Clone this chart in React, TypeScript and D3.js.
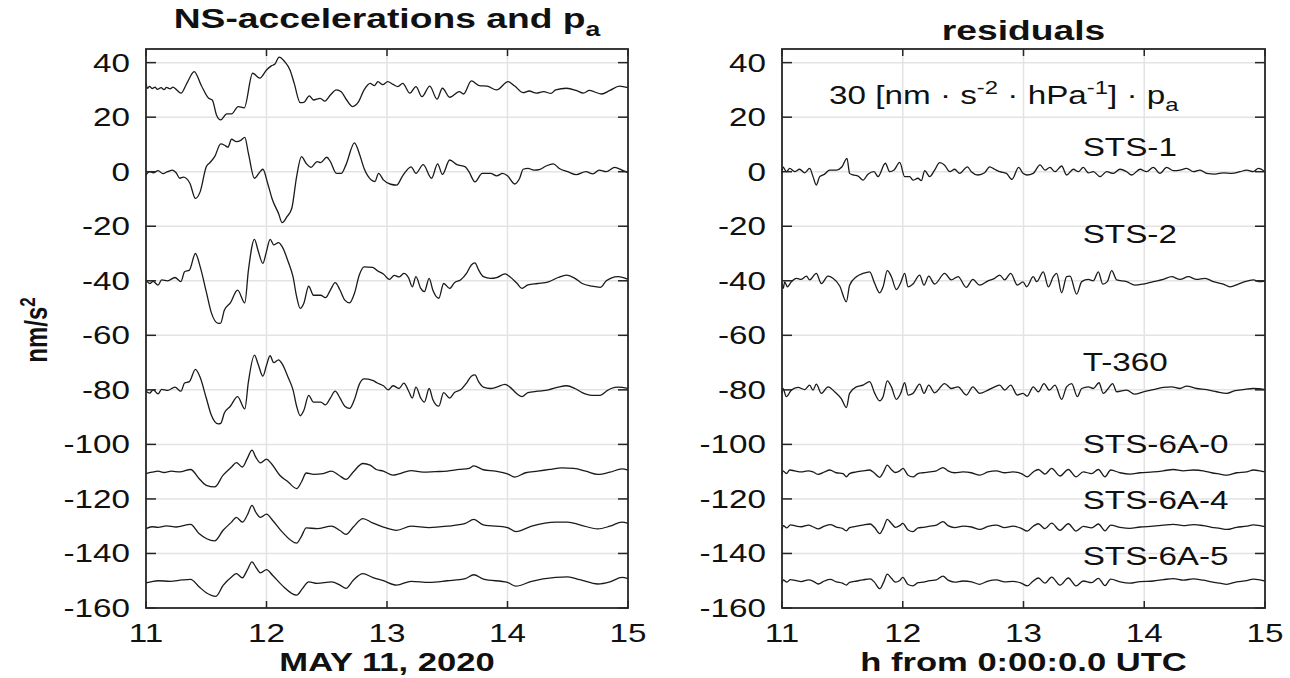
import React from "react";
import * as d3 from "d3";

type Pt = [number, number];

// axes values
const xTicks = [11, 12, 13, 14, 15];
const yTicks = [40, 20, 0, -20, -40, -60, -80, -100, -120, -140, -160];
const xDomain: [number, number] = [11, 15];
const yDomain: [number, number] = [-160, 45];

// ---- left panel: NS accelerations and scaled pressure (time [h], nm/s^2) ----
const paTrace: Pt[] = [
  [11.0, 32.4], [11.012, 30.6], [11.03, 31.3], [11.05, 30.5], [11.075, 31.0], [11.095, 30.2], [11.125, 30.8],
  [11.15, 30.1], [11.17, 30.9], [11.2, 30.4], [11.225, 31.0], [11.25, 30.2], [11.29, 28.8],
  [11.34, 32.5], [11.4, 36.7], [11.46, 31.5], [11.52, 26.9], [11.55, 26.3], [11.585, 20.8], [11.62, 19.0],
  [11.67, 21.2], [11.71, 21.2], [11.765, 23.9], [11.815, 23.4], [11.885, 36.1], [11.945, 34.3], [12.0, 37.3],
  [12.04, 38.8], [12.07, 39.5], [12.105, 42.0], [12.15, 40.4], [12.195, 37.3], [12.23, 32.4], [12.28, 25.3],
  [12.31, 25.4], [12.355, 27.8], [12.39, 26.3], [12.445, 26.9], [12.485, 25.9], [12.53, 28.1], [12.58, 30.0],
  [12.62, 29.3], [12.665, 26.3], [12.715, 23.9], [12.76, 25.4], [12.81, 30.0], [12.86, 32.4], [12.895, 31.6],
  [12.925, 33.0], [12.965, 31.9], [13.005, 33.0], [13.05, 32.0], [13.09, 31.2], [13.13, 32.4], [13.19, 28.8],
  [13.24, 31.2], [13.29, 27.5], [13.355, 31.4], [13.415, 26.6], [13.46, 30.6], [13.52, 27.3], [13.6, 29.4],
  [13.635, 28.5], [13.7, 33.3], [13.765, 31.6], [13.83, 31.4], [13.91, 30.0], [14.005, 33.0], [14.06, 31.4],
  [14.13, 29.0], [14.18, 29.6], [14.24, 28.8], [14.3, 29.4], [14.36, 28.7], [14.4, 30.0], [14.49, 30.6],
  [14.57, 29.8], [14.63, 28.8], [14.68, 29.8], [14.78, 28.5], [14.85, 29.8], [14.93, 31.4], [15.0, 30.8],
];

const sts1Acc: Pt[] = [
  [11.0, -1.2], [11.03, 0.0], [11.06, -0.4], [11.1, 0.4], [11.14, -0.7], [11.18, 0.0], [11.22, 0.6],
  [11.25, -0.4], [11.28, -2.4], [11.31, -2.0], [11.365, -4.3], [11.41, -9.8], [11.45, -7.3], [11.5, 1.8],
  [11.53, 3.3], [11.57, 5.5], [11.62, 10.2], [11.66, 9.5], [11.68, 9.0], [11.71, 11.9], [11.75, 11.0],
  [11.79, 11.6], [11.82, 12.6], [11.85, 6.7], [11.9, -2.4], [11.94, -0.4], [11.97, 0.9], [12.01, -4.3],
  [12.05, -10.4], [12.1, -15.3], [12.13, -18.7], [12.17, -16.5], [12.21, -13.4], [12.25, -1.8], [12.29, 5.5],
  [12.33, 3.0], [12.37, 1.6], [12.42, 3.7], [12.45, 3.3], [12.5, 5.3], [12.53, 3.7], [12.58, -0.6],
  [12.62, -0.6], [12.66, 2.6], [12.73, 10.6], [12.77, 6.7], [12.81, 1.2], [12.87, -3.0], [12.9, -3.6],
  [12.93, -0.6], [12.97, -3.0], [13.03, -4.6], [13.08, -4.9], [13.13, -1.5], [13.2, 1.8], [13.24, -0.6],
  [13.3, 2.6], [13.37, -2.4], [13.42, 2.9], [13.46, -1.0], [13.52, 4.3], [13.58, 2.6], [13.65, 1.8],
  [13.68, 0.0], [13.73, -3.7], [13.79, -0.6], [13.86, -0.6], [13.91, -1.5], [13.96, -0.6], [14.0, -1.5],
  [14.06, -4.5], [14.1, -2.5], [14.13, 0.9], [14.17, 1.2], [14.22, 0.6], [14.27, 0.9], [14.32, 2.1],
  [14.38, 2.9], [14.43, 1.2], [14.5, 0.0], [14.57, -1.1], [14.65, 0.0], [14.71, -0.8], [14.76, 0.6],
  [14.82, 0.0], [14.89, 1.6], [14.95, 0.6], [15.0, -0.4],
];

const sts2Acc: Pt[] = [
  [11.0, -39.7], [11.03, -41.0], [11.06, -40.2], [11.1, -41.6], [11.13, -39.7], [11.18, -40.0],
  [11.24, -38.8], [11.29, -40.3], [11.32, -36.7], [11.36, -36.1], [11.41, -30.0], [11.45, -34.9],
  [11.5, -44.0], [11.54, -51.4], [11.6, -55.6], [11.62, -55.5], [11.65, -50.8], [11.7, -48.1],
  [11.76, -43.4], [11.82, -48.1], [11.85, -36.1], [11.9, -24.8], [11.93, -28.9], [11.97, -33.6],
  [12.0, -29.2], [12.03, -24.8], [12.06, -26.8], [12.1, -26.0], [12.13, -27.5], [12.18, -33.0],
  [12.22, -38.5], [12.25, -45.8], [12.28, -50.1], [12.31, -48.2], [12.35, -42.0], [12.39, -45.3],
  [12.45, -45.3], [12.49, -46.2], [12.53, -43.4], [12.57, -40.7], [12.61, -43.4], [12.65, -47.1],
  [12.69, -48.1], [12.73, -44.6], [12.77, -37.9], [12.81, -34.9], [12.88, -35.1], [12.92, -36.3],
  [12.97, -37.5], [13.02, -39.5], [13.06, -38.0], [13.1, -38.6], [13.14, -37.3], [13.18, -39.0],
  [13.21, -42.2], [13.24, -38.5], [13.28, -42.8], [13.31, -44.0], [13.35, -39.1], [13.38, -43.4],
  [13.43, -46.4], [13.47, -41.0], [13.52, -42.8], [13.56, -40.7], [13.61, -39.7], [13.66, -37.3],
  [13.7, -34.2], [13.73, -33.4], [13.76, -36.0], [13.8, -38.5], [13.86, -39.1], [13.91, -38.8],
  [13.98, -37.5], [14.02, -38.5], [14.08, -41.0], [14.12, -42.8], [14.17, -41.5], [14.25, -41.0],
  [14.34, -40.4], [14.42, -38.8], [14.49, -37.9], [14.56, -39.1], [14.62, -41.0], [14.7, -42.0],
  [14.77, -42.4], [14.82, -40.0], [14.86, -39.0], [14.92, -38.5], [15.0, -39.5],
];

const t360Acc: Pt[] = [
  [11.0, -80.5], [11.03, -81.2], [11.06, -80.0], [11.1, -81.5], [11.13, -79.8], [11.18, -80.2],
  [11.24, -79.0], [11.29, -80.5], [11.32, -77.5], [11.36, -77.0], [11.41, -72.5], [11.45, -75.5],
  [11.5, -83.0], [11.54, -89.0], [11.6, -92.5], [11.62, -92.3], [11.65, -88.5], [11.7, -86.0],
  [11.76, -82.5], [11.82, -87.0], [11.85, -77.0], [11.9, -67.3], [11.93, -70.5], [11.97, -75.0],
  [12.0, -71.0], [12.03, -67.5], [12.06, -70.0], [12.1, -69.0], [12.13, -70.5], [12.18, -75.5],
  [12.22, -80.0], [12.25, -86.0], [12.28, -89.5], [12.31, -87.5], [12.35, -82.0], [12.39, -84.5],
  [12.45, -84.5], [12.49, -85.5], [12.53, -83.0], [12.57, -80.5], [12.61, -83.0], [12.65, -86.0],
  [12.69, -86.8], [12.73, -83.5], [12.77, -78.0], [12.81, -76.0], [12.88, -76.5], [12.92, -77.5],
  [12.97, -78.5], [13.01, -80.0], [13.05, -78.5], [13.1, -79.5], [13.14, -77.5], [13.18, -80.5],
  [13.21, -83.0], [13.24, -79.0], [13.28, -83.0], [13.31, -84.5], [13.35, -79.5], [13.38, -83.5],
  [13.43, -86.0], [13.47, -81.0], [13.52, -83.0], [13.56, -81.0], [13.61, -80.0], [13.66, -77.5],
  [13.7, -75.0], [13.73, -74.5], [13.76, -77.0], [13.8, -79.0], [13.86, -79.5], [13.91, -79.0],
  [13.98, -78.0], [14.02, -79.0], [14.08, -81.5], [14.12, -82.5], [14.17, -81.0], [14.25, -80.5],
  [14.34, -80.0], [14.42, -79.0], [14.49, -78.5], [14.56, -79.5], [14.62, -81.0], [14.7, -82.0],
  [14.77, -82.0], [14.82, -80.5], [14.86, -79.5], [14.92, -79.0], [15.0, -79.5],
];

const sts6a0Acc: Pt[] = [
  [11.0, -110.7], [11.05, -110.2], [11.1, -109.8], [11.15, -110.3], [11.21, -109.8], [11.28, -110.1],
  [11.37, -109.2], [11.44, -112.5], [11.5, -115.0], [11.57, -115.6], [11.64, -111.3], [11.71, -108.3],
  [11.75, -106.7], [11.8, -108.3], [11.84, -105.2], [11.88, -102.1], [11.91, -104.6], [11.95, -106.8],
  [12.0, -105.4], [12.04, -107.0], [12.11, -111.3], [12.18, -113.8], [12.25, -116.2], [12.29, -113.8],
  [12.33, -110.5], [12.39, -111.0], [12.47, -110.7], [12.54, -109.8], [12.6, -111.3], [12.66, -112.8],
  [12.72, -110.1], [12.8, -107.0], [12.86, -107.6], [12.91, -109.2], [12.97, -109.8], [13.05, -111.3],
  [13.1, -110.8], [13.2, -109.6], [13.3, -110.2], [13.4, -110.0], [13.5, -109.8], [13.6, -109.2],
  [13.68, -108.8], [13.72, -107.9], [13.8, -109.3], [13.9, -109.8], [14.0, -110.8], [14.06, -112.0],
  [14.15, -110.4], [14.25, -109.8], [14.35, -109.2], [14.45, -108.6], [14.55, -108.8], [14.65, -109.8],
  [14.75, -111.0], [14.85, -110.2], [14.95, -109.0], [15.0, -109.4],
];

const sts6a4Acc: Pt[] = [
  [11.0, -130.9], [11.05, -130.2], [11.1, -130.4], [11.17, -129.9], [11.25, -130.3], [11.37, -129.3],
  [11.44, -132.7], [11.5, -134.5], [11.57, -135.4], [11.64, -131.5], [11.71, -128.5], [11.75, -126.8],
  [11.8, -128.5], [11.84, -126.0], [11.88, -122.4], [11.91, -124.8], [11.95, -126.8], [12.0, -125.6],
  [12.05, -127.8], [12.13, -132.1], [12.25, -136.2], [12.29, -133.7], [12.33, -130.6], [12.42, -130.9],
  [12.54, -130.0], [12.61, -131.6], [12.66, -133.0], [12.72, -130.3], [12.8, -127.2], [12.88, -128.8],
  [12.97, -130.3], [13.08, -131.5], [13.2, -130.0], [13.35, -130.5], [13.5, -130.0], [13.65, -129.0],
  [13.72, -127.5], [13.8, -129.5], [14.0, -130.5], [14.07, -132.0], [14.2, -130.0], [14.4, -128.5],
  [14.5, -128.5], [14.6, -129.5], [14.75, -131.0], [14.85, -130.0], [14.95, -128.5], [15.0, -129.0],
];

const sts6a5Acc: Pt[] = [
  [11.0, -150.8], [11.05, -150.3], [11.1, -150.0], [11.2, -150.2], [11.3, -149.7], [11.37, -149.5],
  [11.44, -152.2], [11.5, -154.4], [11.58, -155.7], [11.64, -151.7], [11.71, -148.6], [11.75, -147.4],
  [11.8, -148.9], [11.84, -146.1], [11.88, -143.1], [11.91, -144.9], [11.95, -147.1], [12.0, -145.9],
  [12.05, -148.0], [12.13, -151.7], [12.25, -155.3], [12.3, -152.8], [12.35, -150.4], [12.42, -151.0],
  [12.54, -150.4], [12.61, -151.6], [12.66, -152.8], [12.72, -149.8], [12.8, -147.4], [12.88, -148.8],
  [12.97, -150.0], [13.08, -151.6], [13.2, -150.2], [13.35, -150.6], [13.5, -150.0], [13.65, -149.2],
  [13.72, -147.8], [13.8, -149.4], [14.0, -150.6], [14.07, -152.0], [14.2, -150.2], [14.4, -148.8],
  [14.5, -148.6], [14.6, -149.6], [14.75, -151.2], [14.85, -150.4], [14.95, -148.8], [15.0, -149.2],
];

// ---- right panel: residuals ----
const sts1Res: Pt[] = [
  [11.0, -0.6], [11.008, 1.8], [11.036, 0.0], [11.064, 1.2], [11.105, 0.0], [11.146, 0.9], [11.188, -0.4],
  [11.229, 1.2], [11.257, -1.8], [11.284, -4.9], [11.312, -1.8], [11.353, -0.9], [11.395, 0.6], [11.45, 0.6],
  [11.497, 1.8], [11.538, 4.9], [11.56, -0.6], [11.588, -1.2], [11.63, -1.6], [11.671, -3.1], [11.712, -0.9],
  [11.762, 0.0], [11.795, -1.8], [11.856, 3.1], [11.892, 0.0], [11.928, 0.6], [11.975, 3.4], [12.016, -1.8],
  [12.057, -1.8], [12.085, -3.1], [12.126, -2.4], [12.154, -3.3], [12.182, 0.4], [12.223, -1.8], [12.264, 0.6],
  [12.306, 3.3], [12.347, 2.4], [12.389, 0.0], [12.43, 0.9], [12.471, -0.6], [12.535, 1.8], [12.568, 0.0],
  [12.623, -1.2], [12.678, -0.4], [12.72, 1.8], [12.761, 0.9], [12.803, 0.0], [12.858, -0.6], [12.905, -2.8],
  [12.96, 1.6], [12.996, -0.6], [13.026, -1.2], [13.081, -0.6], [13.137, 2.5], [13.178, 0.6], [13.219, 1.6],
  [13.261, 0.0], [13.316, 2.1], [13.357, -1.2], [13.413, 0.9], [13.454, 0.0], [13.495, 1.6], [13.537, -0.4],
  [13.578, 0.0], [13.634, -1.8], [13.689, 0.0], [13.744, -0.6], [13.799, 0.9], [13.854, 0.0], [13.896, -1.2],
  [13.965, 0.9], [14.02, 0.0], [14.075, 1.6], [14.13, -0.6], [14.186, 1.6], [14.241, 0.4], [14.296, 0.6],
  [14.351, 1.2], [14.407, 0.0], [14.462, 0.6], [14.517, -0.6], [14.586, -0.9], [14.655, -0.4], [14.724, -0.6],
  [14.793, 0.0], [14.848, 0.6], [14.903, 0.0], [14.945, 1.2], [15.0, 0.0],
];

const sts2Res: Pt[] = [
  [11.0, -41.0], [11.01, -42.8], [11.022, -40.4], [11.044, -42.2], [11.077, -40.4], [11.119, -39.1],
  [11.16, -39.5], [11.202, -38.3], [11.229, -39.7], [11.284, -37.3], [11.326, -41.0], [11.381, -38.3],
  [11.422, -39.1], [11.478, -41.9], [11.533, -47.7], [11.56, -41.6], [11.616, -38.5], [11.671, -37.3],
  [11.726, -36.7], [11.768, -41.0], [11.809, -44.4], [11.837, -42.2], [11.872, -36.3], [11.906, -38.5],
  [11.947, -43.2], [11.983, -40.7], [12.016, -37.3], [12.044, -42.2], [12.085, -41.2], [12.14, -37.9],
  [12.176, -41.6], [12.215, -38.3], [12.264, -41.2], [12.347, -37.3], [12.402, -39.7], [12.458, -38.5],
  [12.526, -42.4], [12.581, -39.5], [12.637, -41.6], [12.706, -40.0], [12.761, -39.1], [12.803, -37.9],
  [12.844, -39.7], [12.894, -37.3], [12.949, -41.6], [12.996, -40.4], [13.026, -42.2], [13.081, -38.5],
  [13.109, -40.3], [13.164, -36.7], [13.206, -42.2], [13.247, -38.5], [13.275, -37.3], [13.316, -44.4],
  [13.357, -38.5], [13.385, -38.3], [13.44, -44.9], [13.482, -40.3], [13.537, -39.5], [13.578, -40.0],
  [13.62, -36.7], [13.656, -41.2], [13.694, -40.3], [13.73, -36.3], [13.772, -39.7], [13.854, -40.3],
  [13.923, -41.6], [13.992, -41.2], [14.075, -40.3], [14.158, -39.5], [14.227, -38.5], [14.296, -39.5],
  [14.365, -38.5], [14.434, -39.5], [14.503, -39.1], [14.572, -40.3], [14.655, -41.2], [14.71, -42.2],
  [14.779, -41.2], [14.834, -40.3], [14.903, -39.7], [14.959, -40.3], [15.0, -40.0],
];

const t360Res: Pt[] = [
  [11.0, -81.3], [11.008, -79.5], [11.036, -82.5], [11.077, -80.1], [11.133, -79.1], [11.188, -79.9],
  [11.229, -78.3], [11.257, -80.1], [11.284, -77.9], [11.326, -81.3], [11.381, -78.9], [11.436, -80.7],
  [11.491, -83.2], [11.533, -86.5], [11.56, -81.3], [11.616, -78.9], [11.671, -78.3], [11.726, -77.0],
  [11.768, -81.3], [11.809, -84.0], [11.837, -82.5], [11.872, -76.7], [11.906, -78.9], [11.947, -83.5],
  [11.983, -81.3], [12.016, -77.4], [12.044, -81.9], [12.085, -81.3], [12.14, -77.9], [12.176, -81.3],
  [12.215, -78.3], [12.264, -81.1], [12.347, -77.7], [12.402, -79.5], [12.458, -78.9], [12.526, -81.9],
  [12.581, -78.9], [12.637, -81.3], [12.706, -80.1], [12.761, -78.9], [12.803, -78.3], [12.844, -80.1],
  [12.894, -78.3], [12.949, -81.9], [12.996, -81.3], [13.03, -82.3], [13.081, -78.9], [13.123, -80.7],
  [13.17, -77.7], [13.214, -80.1], [13.261, -78.3], [13.316, -83.5], [13.357, -78.9], [13.399, -77.7],
  [13.446, -82.5], [13.482, -79.5], [13.537, -78.9], [13.578, -79.5], [13.625, -77.4], [13.661, -81.3],
  [13.702, -79.5], [13.738, -77.7], [13.772, -80.7], [13.854, -80.1], [13.923, -81.6], [13.992, -80.7],
  [14.075, -79.9], [14.158, -79.1], [14.227, -78.9], [14.296, -79.5], [14.351, -78.6], [14.434, -79.5],
  [14.517, -79.9], [14.6, -80.7], [14.683, -81.3], [14.751, -80.3], [14.82, -79.9], [14.903, -79.5],
  [15.0, -79.9],
];

const sts6a0Res: Pt[] = [
  [11.0, -111.3], [11.008, -109.7], [11.036, -110.7], [11.064, -109.4], [11.105, -109.7], [11.16, -110.1],
  [11.215, -109.7], [11.257, -110.1], [11.298, -111.0], [11.353, -110.1], [11.395, -109.4], [11.45, -110.4],
  [11.505, -110.7], [11.533, -111.9], [11.56, -110.7], [11.616, -110.1], [11.671, -109.7], [11.726, -109.4],
  [11.762, -110.4], [11.809, -112.1], [11.837, -110.4], [11.872, -107.6], [11.906, -109.2], [11.939, -110.3],
  [11.975, -109.7], [12.002, -108.8], [12.044, -111.3], [12.085, -111.9], [12.126, -110.7], [12.168, -110.4],
  [12.223, -110.1], [12.278, -109.7], [12.333, -108.5], [12.375, -109.7], [12.43, -110.4], [12.499, -110.1],
  [12.568, -110.4], [12.637, -111.3], [12.706, -110.1], [12.775, -109.7], [12.844, -110.4], [12.913, -110.1],
  [12.982, -110.7], [13.031, -111.9], [13.081, -110.1], [13.123, -109.2], [13.178, -110.9], [13.233, -108.8],
  [13.302, -111.6], [13.371, -109.2], [13.435, -111.9], [13.495, -110.1], [13.564, -110.7], [13.62, -109.2],
  [13.675, -111.9], [13.722, -109.4], [13.799, -110.4], [13.882, -110.9], [13.965, -110.4], [14.075, -110.1],
  [14.158, -109.7], [14.241, -109.2], [14.324, -109.7], [14.407, -109.4], [14.489, -109.7], [14.558, -110.4],
  [14.627, -110.9], [14.683, -111.3], [14.765, -110.4], [14.848, -110.1], [14.903, -109.4], [14.959, -109.7],
  [15.0, -110.1],
];

const sts6a4Res: Pt[] = [
  [11.0, -131.2], [11.01, -129.8], [11.04, -130.6], [11.07, -129.5], [11.11, -129.9], [11.16, -130.2],
  [11.22, -129.6], [11.26, -130.3], [11.3, -131.0], [11.35, -130.0], [11.4, -129.4], [11.45, -130.3],
  [11.5, -130.8], [11.533, -131.7], [11.56, -130.5], [11.62, -130.0], [11.67, -129.6], [11.73, -129.2],
  [11.765, -130.4], [11.81, -132.7], [11.84, -130.6], [11.872, -127.5], [11.906, -129.0], [11.94, -130.4],
  [11.975, -129.8], [12.0, -129.0], [12.044, -131.4], [12.085, -132.0], [12.126, -130.6], [12.17, -130.4],
  [12.223, -130.0], [12.278, -129.6], [12.333, -128.3], [12.375, -129.8], [12.43, -130.5], [12.5, -130.0],
  [12.57, -130.3], [12.637, -131.2], [12.706, -130.1], [12.775, -129.6], [12.844, -130.5], [12.913, -130.0],
  [12.982, -130.8], [13.031, -131.8], [13.081, -130.0], [13.123, -129.1], [13.178, -130.9], [13.233, -128.9],
  [13.302, -131.5], [13.371, -129.1], [13.435, -131.8], [13.495, -130.1], [13.564, -130.6], [13.62, -129.2],
  [13.675, -131.7], [13.722, -129.6], [13.8, -130.4], [13.88, -130.8], [13.965, -130.3], [14.075, -130.0],
  [14.158, -129.6], [14.241, -129.3], [14.324, -129.8], [14.407, -129.4], [14.489, -129.8], [14.558, -130.4],
  [14.627, -130.8], [14.683, -131.2], [14.765, -130.4], [14.848, -130.0], [14.903, -129.5], [14.959, -129.8],
  [15.0, -130.2],
];

const sts6a5Res: Pt[] = [
  [11.0, -151.0], [11.01, -149.7], [11.04, -150.5], [11.07, -149.6], [11.11, -149.9], [11.16, -150.3],
  [11.22, -149.7], [11.26, -150.2], [11.3, -151.2], [11.35, -150.1], [11.4, -149.5], [11.45, -150.4],
  [11.5, -150.9], [11.533, -151.6], [11.56, -150.6], [11.62, -150.1], [11.67, -149.7], [11.73, -149.3],
  [11.765, -150.5], [11.81, -152.9], [11.84, -150.7], [11.872, -147.6], [11.906, -149.1], [11.94, -150.5],
  [11.975, -149.9], [12.0, -148.8], [12.044, -151.4], [12.085, -151.9], [12.126, -150.7], [12.17, -150.5],
  [12.223, -150.0], [12.278, -149.7], [12.333, -148.3], [12.375, -149.8], [12.43, -150.5], [12.5, -150.1],
  [12.57, -150.4], [12.637, -151.3], [12.706, -150.1], [12.775, -149.7], [12.844, -150.4], [12.913, -150.2],
  [12.982, -150.9], [13.031, -151.9], [13.081, -150.1], [13.123, -149.0], [13.178, -150.9], [13.233, -148.7],
  [13.302, -151.6], [13.371, -149.0], [13.435, -151.9], [13.495, -150.1], [13.564, -150.7], [13.62, -149.1],
  [13.675, -151.8], [13.722, -149.4], [13.8, -150.4], [13.88, -150.9], [13.965, -150.3], [14.075, -150.1],
  [14.158, -149.6], [14.241, -149.2], [14.324, -149.8], [14.407, -149.3], [14.489, -149.8], [14.558, -150.4],
  [14.627, -150.9], [14.683, -151.3], [14.765, -150.4], [14.848, -150.0], [14.903, -149.4], [14.959, -149.7],
  [15.0, -150.1],
];

const leftTraces = [paTrace, sts1Acc, sts2Acc, t360Acc, sts6a0Acc, sts6a4Acc, sts6a5Acc];
const rightTraces = [sts1Res, sts2Res, t360Res, sts6a0Res, sts6a4Res, sts6a5Res];

// instrument labels in the residual panel and the level (nm/s^2) of their baseline
const instrumentNames = ["STS-1", "STS-2", "T-360", "STS-6A-0", "STS-6A-4", "STS-6A-5"];
const instrumentLabelLevel = [5.8, -26.2, -73.1, -103.2, -123.7, -144.3];
const labelStartHour = 13.49;
const scaleNoteLevel = 24.8;
const scaleNoteHour = 11.39;

const FONT = "'Liberation Sans', Arial, Helvetica, sans-serif";
const STRETCH = 1.33;
const AX = "#262626";
const GRID = "#e3e3e3";

function SText({
  x,
  y,
  size,
  anchor = "middle",
  weight = "normal",
  children,
}: {
  x: number;
  y: number;
  size: number;
  anchor?: string;
  weight?: string;
  children: React.ReactNode;
}) {
  return (
    <text
      transform={`translate(${x},${y}) scale(${STRETCH},1)`}
      fontSize={size}
      fontFamily={FONT}
      fontWeight={weight}
      textAnchor={anchor}
      fill="#111"
    >
      {children}
    </text>
  );
}

function Panel({
  left,
  right,
  top,
  bottom,
  traces,
  tickLabelX,
}: {
  left: number;
  right: number;
  top: number;
  bottom: number;
  traces: Pt[][];
  tickLabelX: number;
}) {
  const x = d3.scaleLinear().domain(xDomain).range([left, right]);
  const y = d3.scaleLinear().domain(yDomain).range([bottom, top]);
  const line = d3
    .line<Pt>()
    .x((d) => x(d[0]))
    .y((d) => y(d[1]))
    .curve(d3.curveMonotoneX);

  return (
    <g>
      {/* grid */}
      {xTicks.slice(1, -1).map((t) => (
        <line key={"gx" + t} x1={x(t)} x2={x(t)} y1={top} y2={bottom} stroke={GRID} strokeWidth={1.5} />
      ))}
      {yTicks.slice(0, -1).map((t) => (
        <line key={"gy" + t} x1={left} x2={right} y1={y(t)} y2={y(t)} stroke={GRID} strokeWidth={1.5} />
      ))}
      {/* traces */}
      {traces.map((tr, i) => (
        <path key={"tr" + i} d={line(tr) || ""} fill="none" stroke="#1a1a1a" strokeWidth={1.3} />
      ))}
      {/* ticks */}
      {xTicks.map((t) => (
        <g key={"tx" + t}>
          <line x1={x(t)} x2={x(t)} y1={bottom} y2={bottom - 7} stroke={AX} strokeWidth={1.5} />
          <line x1={x(t)} x2={x(t)} y1={top} y2={top + 7} stroke={AX} strokeWidth={1.5} />
          <SText x={x(t)} y={bottom + 34} size={25}>
            {t}
          </SText>
        </g>
      ))}
      {yTicks.map((t) => (
        <g key={"ty" + t}>
          <line x1={left} x2={left + 10} y1={y(t)} y2={y(t)} stroke={AX} strokeWidth={1.5} />
          <line x1={right} x2={right - 10} y1={y(t)} y2={y(t)} stroke={AX} strokeWidth={1.5} />
          <SText x={tickLabelX} y={y(t) + 9} size={25} anchor="end">
            {t}
          </SText>
        </g>
      ))}
      <rect x={left} y={top} width={right - left} height={bottom - top} fill="none" stroke={AX} strokeWidth={1.8} />
    </g>
  );
}

export default function App() {
  const top = 49;
  const bottom = 608;
  const L = { left: 146, right: 628 };
  const R = { left: 782, right: 1265 };
  const xr = d3.scaleLinear().domain(xDomain).range([R.left, R.right]);
  const yr = d3.scaleLinear().domain(yDomain).range([bottom, top]);

  return (
    <svg
      width={1290}
      height={678}
      style={{ position: "absolute", left: 0, top: 0, background: "#fff" }}
    >
      <rect x={0} y={0} width={1290} height={678} fill="#fff" />
      <Panel left={L.left} right={L.right} top={top} bottom={bottom} traces={leftTraces} tickLabelX={130} />
      <Panel left={R.left} right={R.right} top={top} bottom={bottom} traces={rightTraces} tickLabelX={766} />

      {/* titles */}
      <SText x={(L.left + L.right) / 2} y={28} size={28} weight="bold">
        NS-accelerations and p
        <tspan dy={8} fontSize={20}>
          a
        </tspan>
      </SText>
      <SText x={(R.left + R.right) / 2} y={40} size={28} weight="bold">
        residuals
      </SText>

      {/* x labels */}
      <SText x={(L.left + L.right) / 2} y={671} size={26} weight="bold">
        MAY 11, 2020
      </SText>
      <SText x={(R.left + R.right) / 2} y={671} size={26} weight="bold">
        h from 0:00:0.0 UTC
      </SText>

      {/* y label */}
      <text
        transform={`translate(47,330) scale(${STRETCH},1) rotate(-90)`}
        fontSize={24}
        fontFamily={FONT}
        fontWeight="bold"
        textAnchor="middle"
        fill="#111"
      >
        nm/s
        <tspan dy={-9} fontSize={17}>
          2
        </tspan>
      </text>

      {/* residual panel annotations */}
      <SText x={xr(scaleNoteHour)} y={yr(scaleNoteLevel)} size={25} anchor="start">
        30 [nm · s
        <tspan dy={-10} fontSize={18}>
          -2
        </tspan>
        <tspan dy={10}> · hPa</tspan>
        <tspan dy={-10} fontSize={18}>
          -1
        </tspan>
        <tspan dy={10}>] · p</tspan>
        <tspan dy={7} fontSize={18}>
          a
        </tspan>
      </SText>
      {instrumentNames.map((name, i) => (
        <SText key={name} x={xr(labelStartHour)} y={yr(instrumentLabelLevel[i])} size={25} anchor="start">
          {name}
        </SText>
      ))}
    </svg>
  );
}
